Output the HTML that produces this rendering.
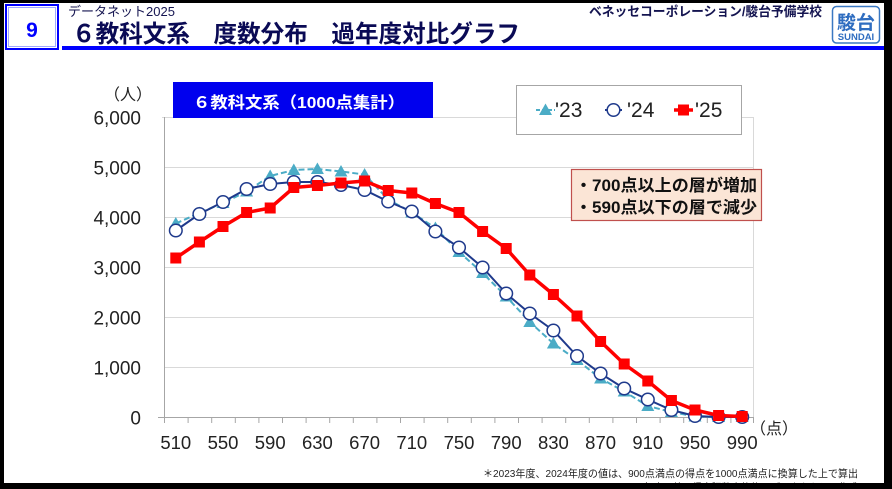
<!DOCTYPE html>
<html><head><meta charset="utf-8">
<style>
html,body{margin:0;padding:0;background:#000;}
body{width:892px;height:489px;overflow:hidden;}
svg{display:block;}
</style></head>
<body>
<svg width="892" height="489" viewBox="0 0 892 489" xmlns="http://www.w3.org/2000/svg">
<defs>
<polygon id="t" points="0,-6.5 -6.5,5 6.5,5" fill="#4BACC6"/>
<circle id="c" r="6.3" fill="#fff" stroke="#1F3A8C" stroke-width="1.5"/>
<rect id="s" x="-5.5" y="-5.5" width="11" height="11" fill="#FF0000"/>
</defs>
<rect x="0" y="0" width="892" height="489" fill="#000"/>
<rect x="4" y="3" width="880" height="480" fill="#fff"/>

<!-- header -->
<rect x="6" y="5" width="52" height="44" fill="#fff" stroke="#0000FF" stroke-width="2"/>
<rect x="8.5" y="7.5" width="47" height="39" fill="none" stroke="#9FA8FF" stroke-width="1"/>
<text x="32" y="37" text-anchor="middle" font-family="Liberation Sans, sans-serif" font-weight="bold" font-size="21" fill="#0000FF">9</text>
<rect x="62" y="46" width="822" height="4" fill="#0000FF"/>
<text x="68" y="16" font-family="Liberation Sans, 'Noto Sans CJK JP', sans-serif" font-size="13" fill="#141450" textLength="107" lengthAdjust="spacingAndGlyphs">データネット2025</text>
<text x="72" y="42" font-family="Liberation Sans, 'Noto Sans CJK JP', sans-serif" font-size="24" font-weight="bold" fill="#0A0A55" textLength="448" lengthAdjust="spacingAndGlyphs">６教科文系　度数分布　過年度対比グラフ</text>
<text x="822" y="16" text-anchor="end" font-family="Liberation Sans, 'Noto Sans CJK JP', sans-serif" font-size="13" font-weight="bold" fill="#141450" textLength="233" lengthAdjust="spacingAndGlyphs">ベネッセコーポレーション/駿台予備学校</text>
<rect x="832.5" y="6.5" width="47" height="36.5" rx="4" fill="#fff" stroke="#3A78C2" stroke-width="1.5"/>
<text x="856" y="29" text-anchor="middle" font-family="'Noto Sans CJK JP', sans-serif" font-size="19" font-weight="bold" fill="#2F6DC0">駿台</text>
<text x="856" y="40" text-anchor="middle" font-family="Liberation Sans, sans-serif" font-size="9.5" font-weight="bold" fill="#2F6DC0">SUNDAI</text>

<!-- gridlines -->
<g stroke="#D9D9D9" stroke-width="1">
<line x1="162" y1="117.5" x2="754" y2="117.5"/>
<line x1="164" y1="167.5" x2="754" y2="167.5"/>
<line x1="164" y1="217.5" x2="754" y2="217.5"/>
<line x1="164" y1="267.5" x2="754" y2="267.5"/>
<line x1="164" y1="317.5" x2="754" y2="317.5"/>
<line x1="164" y1="367.5" x2="754" y2="367.5"/>
<line x1="753.5" y1="117" x2="753.5" y2="417"/>
</g>
<g stroke="#A6A6A6" stroke-width="1">
<line x1="164.5" y1="117" x2="164.5" y2="417"/>
<line x1="158" y1="417.5" x2="754" y2="417.5"/>
<line x1="164.5" y1="417" x2="164.5" y2="423"/>
<line x1="188.1" y1="417" x2="188.1" y2="423"/>
<line x1="211.7" y1="417" x2="211.7" y2="423"/>
<line x1="235.3" y1="417" x2="235.3" y2="423"/>
<line x1="258.9" y1="417" x2="258.9" y2="423"/>
<line x1="282.5" y1="417" x2="282.5" y2="423"/>
<line x1="306.1" y1="417" x2="306.1" y2="423"/>
<line x1="329.7" y1="417" x2="329.7" y2="423"/>
<line x1="353.3" y1="417" x2="353.3" y2="423"/>
<line x1="376.9" y1="417" x2="376.9" y2="423"/>
<line x1="400.5" y1="417" x2="400.5" y2="423"/>
<line x1="424.1" y1="417" x2="424.1" y2="423"/>
<line x1="447.7" y1="417" x2="447.7" y2="423"/>
<line x1="471.3" y1="417" x2="471.3" y2="423"/>
<line x1="494.9" y1="417" x2="494.9" y2="423"/>
<line x1="518.5" y1="417" x2="518.5" y2="423"/>
<line x1="542.1" y1="417" x2="542.1" y2="423"/>
<line x1="565.7" y1="417" x2="565.7" y2="423"/>
<line x1="589.3" y1="417" x2="589.3" y2="423"/>
<line x1="612.9" y1="417" x2="612.9" y2="423"/>
<line x1="636.5" y1="417" x2="636.5" y2="423"/>
<line x1="660.1" y1="417" x2="660.1" y2="423"/>
<line x1="683.7" y1="417" x2="683.7" y2="423"/>
<line x1="707.3" y1="417" x2="707.3" y2="423"/>
<line x1="730.9" y1="417" x2="730.9" y2="423"/>
<line x1="753.5" y1="417" x2="753.5" y2="423"/>
</g>

<!-- y labels -->
<g font-family="Liberation Sans, sans-serif" font-size="19" fill="#222" text-anchor="end">
<text x="141" y="124.5">6,000</text>
<text x="141" y="174.5">5,000</text>
<text x="141" y="224.5">4,000</text>
<text x="141" y="274.5">3,000</text>
<text x="141" y="324.5">2,000</text>
<text x="141" y="374.5">1,000</text>
<text x="141" y="424.5">0</text>
</g>
<text x="128" y="100" text-anchor="middle" font-family="'Noto Sans CJK JP', sans-serif" font-size="16" fill="#222">（人）</text>

<!-- x labels -->
<g font-family="Liberation Sans, sans-serif" font-size="18.5" fill="#222" text-anchor="middle">
<text x="175.8" y="449">510</text>
<text x="223" y="449">550</text>
<text x="270.2" y="449">590</text>
<text x="317.4" y="449">630</text>
<text x="364.6" y="449">670</text>
<text x="411.8" y="449">710</text>
<text x="459" y="449">750</text>
<text x="506.2" y="449">790</text>
<text x="553.4" y="449">830</text>
<text x="600.6" y="449">870</text>
<text x="647.8" y="449">910</text>
<text x="695" y="449">950</text>
<text x="742.2" y="449">990</text>
</g>
<text x="774" y="434" text-anchor="middle" font-family="'Noto Sans CJK JP', sans-serif" font-size="16" fill="#222">（点）</text>

<!-- series '23 -->
<polyline fill="none" stroke="#4BACC6" stroke-width="2" stroke-dasharray="6,3" points="175.8,223.5 199.4,213 223,203 246.6,191.5 270.2,176 293.8,170 317.4,169 341,171.5 364.6,174.5 388.2,199.5 411.8,212.5 435.4,228 459,252 482.6,273 506.2,296.5 529.8,322 553.4,343.5 577,360 600.6,378.5 624.2,391.5 647.8,406 671.4,412 695,416.5 718.6,417 742.2,417"/>
<g>
<use href="#t" x="175.8" y="223.5"/><use href="#t" x="199.4" y="213"/><use href="#t" x="223" y="203"/><use href="#t" x="246.6" y="191.5"/><use href="#t" x="270.2" y="176"/><use href="#t" x="293.8" y="170"/><use href="#t" x="317.4" y="169"/><use href="#t" x="341" y="171.5"/><use href="#t" x="364.6" y="174.5"/><use href="#t" x="388.2" y="199.5"/><use href="#t" x="411.8" y="212.5"/><use href="#t" x="435.4" y="228"/><use href="#t" x="459" y="252"/><use href="#t" x="482.6" y="273"/><use href="#t" x="506.2" y="296.5"/><use href="#t" x="529.8" y="322"/><use href="#t" x="553.4" y="343.5"/><use href="#t" x="577" y="360"/><use href="#t" x="600.6" y="378.5"/><use href="#t" x="624.2" y="391.5"/><use href="#t" x="647.8" y="406"/><use href="#t" x="671.4" y="412"/><use href="#t" x="695" y="416.5"/><use href="#t" x="718.6" y="417"/><use href="#t" x="742.2" y="417"/>
</g>

<!-- series '24 -->
<polyline fill="none" stroke="#1F3A8C" stroke-width="2" points="175.8,230.5 199.4,214 223,202 246.6,189 270.2,184 293.8,182 317.4,182 341,185 364.6,190 388.2,201.5 411.8,211.5 435.4,231.5 459,247.5 482.6,267.5 506.2,293.5 529.8,313.5 553.4,330.5 577,356 600.6,373.5 624.2,388.5 647.8,399.5 671.4,410 695,416 718.6,417 742.2,417"/>
<g>
<use href="#c" x="175.8" y="230.5"/><use href="#c" x="199.4" y="214"/><use href="#c" x="223" y="202"/><use href="#c" x="246.6" y="189"/><use href="#c" x="270.2" y="184"/><use href="#c" x="293.8" y="182"/><use href="#c" x="317.4" y="182"/><use href="#c" x="341" y="185"/><use href="#c" x="364.6" y="190"/><use href="#c" x="388.2" y="201.5"/><use href="#c" x="411.8" y="211.5"/><use href="#c" x="435.4" y="231.5"/><use href="#c" x="459" y="247.5"/><use href="#c" x="482.6" y="267.5"/><use href="#c" x="506.2" y="293.5"/><use href="#c" x="529.8" y="313.5"/><use href="#c" x="553.4" y="330.5"/><use href="#c" x="577" y="356"/><use href="#c" x="600.6" y="373.5"/><use href="#c" x="624.2" y="388.5"/><use href="#c" x="647.8" y="399.5"/><use href="#c" x="671.4" y="410"/><use href="#c" x="695" y="416"/><use href="#c" x="718.6" y="417"/><use href="#c" x="742.2" y="417"/>
</g>

<!-- series '25 -->
<polyline fill="none" stroke="#FF0000" stroke-width="3.5" stroke-linejoin="round" points="175.8,258 199.4,242 223,226.5 246.6,212.5 270.2,208 293.8,187.5 317.4,185.5 341,183 364.6,181 388.2,190.5 411.8,193 435.4,203.5 459,212.5 482.6,231.5 506.2,248.5 529.8,275 553.4,294.5 577,316 600.6,341.5 624.2,364 647.8,381 671.4,400.5 695,410 718.6,415.5 742.2,416.5"/>
<g>
<use href="#s" x="175.8" y="258"/><use href="#s" x="199.4" y="242"/><use href="#s" x="223" y="226.5"/><use href="#s" x="246.6" y="212.5"/><use href="#s" x="270.2" y="208"/><use href="#s" x="293.8" y="187.5"/><use href="#s" x="317.4" y="185.5"/><use href="#s" x="341" y="183"/><use href="#s" x="364.6" y="181"/><use href="#s" x="388.2" y="190.5"/><use href="#s" x="411.8" y="193"/><use href="#s" x="435.4" y="203.5"/><use href="#s" x="459" y="212.5"/><use href="#s" x="482.6" y="231.5"/><use href="#s" x="506.2" y="248.5"/><use href="#s" x="529.8" y="275"/><use href="#s" x="553.4" y="294.5"/><use href="#s" x="577" y="316"/><use href="#s" x="600.6" y="341.5"/><use href="#s" x="624.2" y="364"/><use href="#s" x="647.8" y="381"/><use href="#s" x="671.4" y="400.5"/><use href="#s" x="695" y="410"/><use href="#s" x="718.6" y="415.5"/><use href="#s" x="742.2" y="416.5"/>
</g>

<!-- chart title box -->
<rect x="173" y="82" width="260" height="36" fill="#0000EE"/>
<text x="193" y="108" font-family="Liberation Sans, 'Noto Sans CJK JP', sans-serif" font-size="16" font-weight="bold" fill="#fff" textLength="212" lengthAdjust="spacingAndGlyphs">６教科文系（1000点集計）</text>

<!-- legend -->
<rect x="516.5" y="85.5" width="225" height="49" fill="#fff" stroke="#A6A6A6" stroke-width="1"/>
<line x1="536" y1="110" x2="555" y2="110" stroke="#4BACC6" stroke-width="2" stroke-dasharray="4,2"/>
<use href="#t" x="545.5" y="110"/>
<text x="555" y="117" font-family="Liberation Sans, sans-serif" font-size="21" fill="#222">'23</text>
<line x1="605" y1="110" x2="622" y2="110" stroke="#1F3A8C" stroke-width="2"/>
<use href="#c" x="613.5" y="110"/>
<text x="627" y="117" font-family="Liberation Sans, sans-serif" font-size="21" fill="#222">'24</text>
<line x1="674" y1="110" x2="693" y2="110" stroke="#FF0000" stroke-width="3.5"/>
<use href="#s" x="683.5" y="110"/>
<text x="695" y="117" font-family="Liberation Sans, sans-serif" font-size="21" fill="#222">'25</text>

<!-- annotation -->
<rect x="571.5" y="169.5" width="190" height="51" fill="#FBE5D6" stroke="#C0504D" stroke-width="1.2"/>
<text x="575" y="191" font-family="Liberation Sans, 'Noto Sans CJK JP', sans-serif" font-size="16.5" font-weight="bold" fill="#111" textLength="182" lengthAdjust="spacingAndGlyphs">・700点以上の層が増加</text>
<text x="575" y="213" font-family="Liberation Sans, 'Noto Sans CJK JP', sans-serif" font-size="16.5" font-weight="bold" fill="#111" textLength="182" lengthAdjust="spacingAndGlyphs">・590点以下の層で減少</text>

<!-- footnote -->
<text x="483" y="477" font-family="Liberation Sans, 'Noto Sans CJK JP', sans-serif" font-size="10.5" fill="#222" textLength="375" lengthAdjust="spacingAndGlyphs">＊2023年度、2024年度の値は、900点満点の得点を1000点満点に換算した上で算出</text>
<text x="612" y="491" font-family="Liberation Sans, 'Noto Sans CJK JP', sans-serif" font-size="10.5" fill="#222" textLength="246" lengthAdjust="spacingAndGlyphs">・2023年度の値は得点調整実施後のデータをもとに作成</text>

<!-- black frame overlay -->
<rect x="0" y="483" width="892" height="6" fill="#000"/>
<rect x="884" y="0" width="8" height="489" fill="#000"/>
</svg>
</body></html>
